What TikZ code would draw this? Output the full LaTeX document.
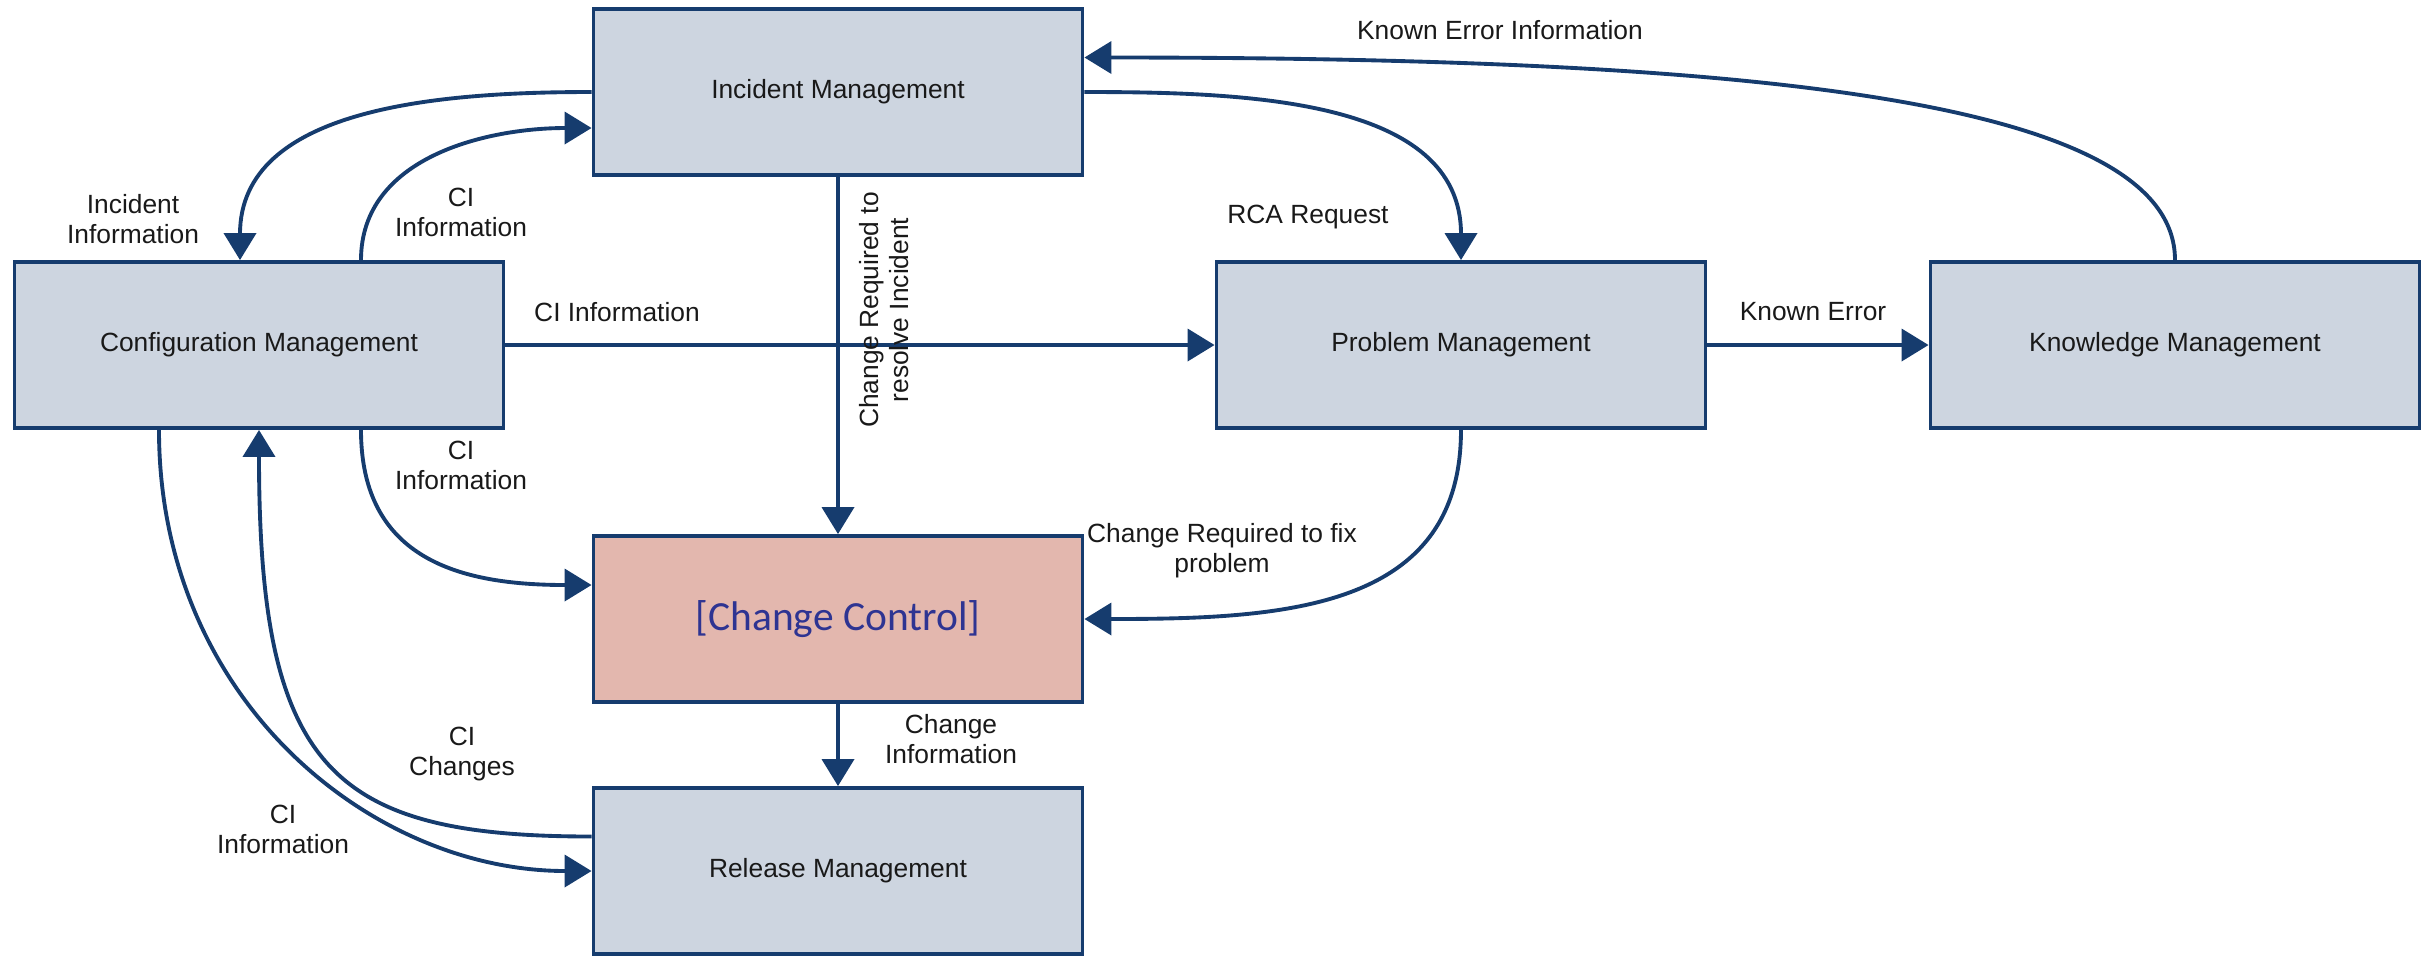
\documentclass[tikz,border=0pt]{standalone}
\usepackage{fontspec}
\setmainfont{Liberation Sans}
\newfontfamily\ccfont{Carlito}
\usepackage{tikz}
\usetikzlibrary{arrows.meta}
\tikzset{>={Triangle[width=3.2mm,length=2.7mm]}}
\definecolor{flowblue}{RGB}{22,60,110}
\definecolor{boxgrey}{RGB}{205,213,224}
\definecolor{boxrose}{RGB}{227,183,174}
\definecolor{ccblue}{RGB}{46,52,146}
\tikzset{
  procbox/.style={draw=flowblue, line width=1.1pt, fill=boxgrey, minimum width=4.89cm, minimum height=1.66cm, font=\fontsize{7.5}{9}\selectfont, text=black!90},
  flow/.style={->, draw=flowblue, line width=1.1pt},
  lbl/.style={align=center, font=\fontsize{7.5}{8.5}\selectfont, text=black!90}
}

\begin{document}
\begin{tikzpicture}
    \useasboundingbox (0,0) rectangle (24.35,-9.57);

    \node[procbox] (incident) at (8.38,-0.92) {Incident Management};
    \node[procbox] (config) at (2.59,-3.45) {Configuration Management};
    \node[procbox] (problem) at (14.61,-3.45) {Problem Management};
    \node[procbox] (knowledge) at (21.75,-3.45) {Knowledge Management};
    \node[procbox, fill=boxrose, font=\ccfont\fontsize{11.8}{14}\selectfont, text=ccblue] (change) at (8.38,-6.19) {[Change Control]};
    \node[procbox] (release) at (8.38,-8.71) {Release Management};

    \draw[flow] (incident.west) to[out=180, in=90] ([xshift=-0.19cm]config.north) node[lbl] (lbl-inc-info) at (1.33,-2.19) {Incident\\Information};
    \draw[flow] ([xshift=1.02cm]config.north) to[out=90, in=180] ([yshift=-0.36cm]incident.west) node[lbl] (lbl-ci-up) at (4.61,-2.12) {CI\\Information};
    \draw[flow] (config) -- (problem) node[lbl] (lbl-ci-mid) at (6.17,-3.12) {CI Information};
    \draw[flow] (incident) -- (change) node[lbl, rotate=90] (lbl-resolve) at (8.84,-3.10) {Change Required to\\resolve Incident};

    \draw[flow] (incident.east) to[out=0, in=90] (problem.north) node[lbl] (lbl-rca) at (13.08,-2.17) {RCA Request};
    \draw[flow] (knowledge.north) to[out=90, in=0, out distance=1.6cm, in distance=6.7cm] ([yshift=0.345cm]incident.east) node[lbl] (lbl-ke-info) at (15.00,-0.30) {Known Error Information};
    \draw[flow] (problem) -- (knowledge) node[lbl] (lbl-ke) at (18.13,-3.12) {Known Error};
    \draw[flow] (problem.south) to[out=-90, in=0, out distance=1.8cm, in distance=2.0cm] (change.east) node[lbl] (lbl-fix) at (12.22,-5.51) {Change Required to fix\\problem};

    \draw[flow] ([xshift=1.02cm]config.south) to[out=-90, in=180, looseness=1.2] ([yshift=0.34cm]change.west) node[lbl] (lbl-ci-low) at (4.61,-4.65) {CI\\Information};
    \draw[flow] (change) -- (release) node[lbl] (lbl-chg-info) at (9.51,-7.39) {Change\\Information};
    \draw[flow] ([yshift=0.345cm]release.west) to[out=180, in=-90, out distance=2.6cm, in distance=3.4cm] (config.south) node[lbl] (lbl-ci-chg) at (4.62,-7.54) {CI\\Changes};
    \draw[flow] ([xshift=-1.0cm]config.south) to[out=-90, in=180, out distance=2.7cm, in distance=2.2cm] (release.west) node[lbl] (lbl-ci-rel) at (2.83,-8.29) {CI\\Information};
\end{tikzpicture}
\end{document}
